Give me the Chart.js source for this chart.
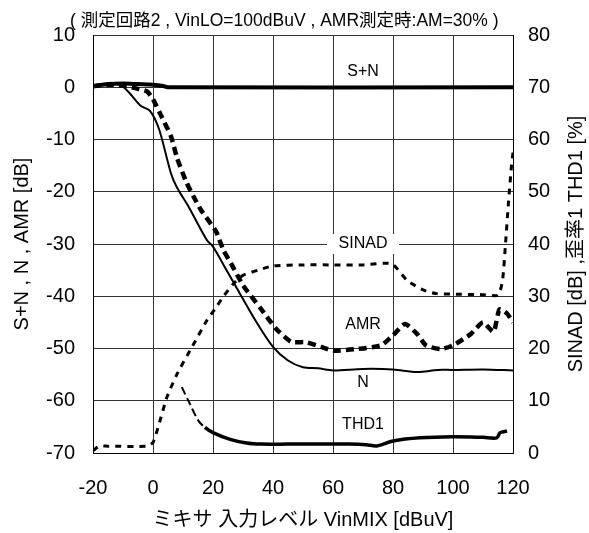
<!DOCTYPE html>
<html lang="ja">
<head>
<meta charset="UTF-8">
<title>ミキサ入力レベル特性</title>
<style>
  body { margin: 0; background: #fff; }
  canvas { display: block; }
</style>
</head>
<body>
<canvas id="chart" width="589" height="533"></canvas>
<script src="https://cdn.jsdelivr.net/npm/chart.js"></script>
<script>
const FONT = '"Liberation Sans", Arial, "Noto Sans CJK JP", sans-serif';

// S+N [dB]
const snX = [-20, -15, -10, -5, 0, 3, 5, 120];
const snY = [0.2, 0.6, 0.7, 0.6, 0.5, 0.3, 0, 0];

// N [dB]
const nX = [-20, -15, -11, -8, -4, -1, 2, 6, 8, 12, 18, 20, 24, 28, 34, 40, 45, 50, 55, 60, 70, 80, 88, 95, 100, 110, 120];
const nY = [0.2, 0.5, 0.5, -1, -3.6, -4.5, -8, -16.5, -19.2, -23, -29.3, -30.5, -34.5, -38.5, -44.5, -49.7, -52.3, -53.6, -53.8, -54.2, -53.9, -54, -54.5, -54.1, -54.1, -54, -54.2];

// AMR [dB]
const amrX = [-20, -15, -10, -5, -2, 0, 3, 6, 8, 11, 13.5, 16, 21, 23.5, 26, 30, 36, 41, 46, 51, 56, 60, 68, 76, 80, 84, 88, 91, 96, 100, 106, 110, 113.5, 115.5, 118, 120];
const amrY = [0.2, 0.5, 0.3, -0.3, -0.8, -2.3, -5.8, -9.4, -13.5, -18, -20.9, -23.5, -27.6, -31.2, -33.7, -37.9, -42.4, -46.2, -48.7, -48.8, -49.7, -50.4, -50.1, -49.4, -47.5, -45.3, -47.2, -49.4, -50.1, -49.4, -47.2, -45, -46.8, -42.5, -43.3, -45];

// SINAD [dB] (right axis)
const sinadX = [-20, -18, -15, -2, 0, 2, 4.6, 8, 13, 18, 20.7, 23.4, 26.8, 30, 35.7, 40, 50, 60, 70, 79.6, 84.6, 90, 94.6, 100, 110, 115, 116.5, 117.5, 118.5, 119.5, 120];
const sinadY = [0.4, 1.3, 1.3, 1.3, 2, 5.5, 10.6, 15.1, 20.3, 25.4, 27.6, 29.9, 32.4, 34, 35.1, 35.8, 36, 36, 36, 36.2, 33.1, 31.2, 30.5, 30.4, 30.3, 30.2, 33, 40, 48, 55, 57.5];

// THD1 [%] (right axis)
const thdX = [9.6, 12.3, 15.1, 17.3, 20, 25.7, 31.2, 36, 45, 55, 65, 71, 74.6, 80, 89, 100, 110, 114.6, 115.7, 118];
const thdY = [12.6, 9.4, 6.2, 4.9, 3.9, 2.6, 1.9, 1.7, 1.7, 1.7, 1.7, 1.6, 1.35, 2.3, 2.9, 3.1, 3.0, 2.9, 3.9, 4.2];

const xTicks = [-20, 0, 20, 40, 60, 80, 100, 120];

// labels inside the plot (x, y on the left axis)
const seriesLabels = [
  { text: 'S+N', x: 70, y: 3 },
  { text: 'SINAD', x: 70, y: -30, box: true },
  { text: 'AMR', x: 70, y: -45.5 },
  { text: 'N', x: 70, y: -56.6 },
  { text: 'THD1', x: 70, y: -64.6 }
];

const noteText = '( 測定回路2 , VinLO=100dBuV , AMR測定時:AM=30% )';
const rightTitle = 'SINAD [dB] ,歪率1 THD1 [%]';

function pts(xs, ys) {
  return xs.map((x, i) => ({ x: x, y: ys[i] }));
}

const labelsPlugin = {
  id: 'labels',
  beforeDatasetsDraw(chart) {
    const ctx = chart.ctx;
    const xs = chart.scales.x, ys = chart.scales.y;
    ctx.save();
    ctx.font = '16px ' + FONT;
    ctx.textAlign = 'center';
    ctx.textBaseline = 'middle';
    seriesLabels.forEach(l => {
      const px = xs.getPixelForValue(l.x);
      const py = ys.getPixelForValue(l.y);
      if (l.box) {
        ctx.fillStyle = '#fff';
        ctx.fillRect(px - 36, py - 10, 72, 20);
      }
      ctx.fillStyle = '#000';
      ctx.fillText(l.text, px, py);
    });
    ctx.restore();
  },
  afterDraw(chart) {
    const ctx = chart.ctx;
    const area = chart.chartArea;
    ctx.save();
    ctx.fillStyle = '#000';
    ctx.font = '17.5px ' + FONT;
    ctx.textAlign = 'left';
    ctx.textBaseline = 'middle';
    ctx.fillText(noteText, 70, 21);

    ctx.font = '20px ' + FONT;
    ctx.textAlign = 'center';
    ctx.translate(576, (area.top + area.bottom) / 2);
    ctx.rotate(-Math.PI / 2);
    ctx.fillText(rightTitle, 0, 0);
    ctx.restore();
  }
};

const ctx = document.getElementById('chart').getContext('2d');
new Chart(ctx, {
  type: 'line',
  data: {
    datasets: [
      {
        label: 'S+N', data: pts(snX, snY), yAxisID: 'y',
        borderColor: '#000', borderWidth: 4, pointRadius: 0, tension: 0.3
      },
      {
        label: 'N', data: pts(nX, nY), yAxisID: 'y',
        borderColor: '#000', borderWidth: 2, pointRadius: 0, tension: 0.3
      },
      {
        label: 'AMR', data: pts(amrX, amrY), yAxisID: 'y',
        borderColor: '#000', borderWidth: 4.5, borderDash: [8, 5], pointRadius: 0, tension: 0.2
      },
      {
        label: 'SINAD', data: pts(sinadX, sinadY), yAxisID: 'y2',
        borderColor: '#000', borderWidth: 3, borderDash: [6, 6], pointRadius: 0, tension: 0.2
      },
      {
        label: 'THD1', data: pts(thdX, thdY), yAxisID: 'y2',
        borderColor: '#000', borderWidth: 3.5, pointRadius: 0, tension: 0.3,
        segment: {
          borderDash: c => c.p0.parsed.x < 17 ? [8, 4] : undefined,
          borderWidth: c => c.p0.parsed.x < 17 ? 2 : 3.5
        }
      }
    ]
  },
  options: {
    responsive: false,
    animation: false,
    layout: { padding: { top: 35, left: 0, right: 0, bottom: 0 } },
    plugins: {
      legend: { display: false },
      tooltip: { enabled: false }
    },
    scales: {
      x: {
        type: 'linear', min: -20, max: 120,
        afterBuildTicks: s => { s.ticks = xTicks.map(v => ({ value: v })); },
        afterFit: s => { s.height = 80; },
        grid: { color: '#333', lineWidth: 1, drawTicks: false },
        border: { color: '#000', width: 1 },
        ticks: { color: '#000', padding: 23, font: { family: FONT, size: 20 } },
        title: {
          display: true, text: 'ミキサ 入力レベル VinMIX [dBuV]', color: '#000',
          font: { family: FONT, size: 20 }, padding: { top: 0, bottom: 1 }
        }
      },
      y: {
        position: 'left', min: -70, max: 10,
        ticks: { stepSize: 10, color: '#000', padding: 18, font: { family: FONT, size: 20 } },
        afterFit: s => { s.width = 93; },
        grid: { color: '#333', lineWidth: 1, drawTicks: false },
        border: { color: '#000', width: 1 },
        title: {
          display: true, text: 'S+N , N , AMR [dB]', color: '#000',
          font: { family: FONT, size: 20 }, padding: { top: 10, bottom: 0 }
        }
      },
      y2: {
        position: 'right', min: 0, max: 80,
        ticks: { stepSize: 10, color: '#000', padding: 15, font: { family: FONT, size: 20 } },
        afterFit: s => { s.width = 76; },
        grid: { drawOnChartArea: false, drawTicks: false },
        border: { color: '#000', width: 1 }
      }
    }
  },
  plugins: [labelsPlugin]
});
</script>
</body>
</html>
